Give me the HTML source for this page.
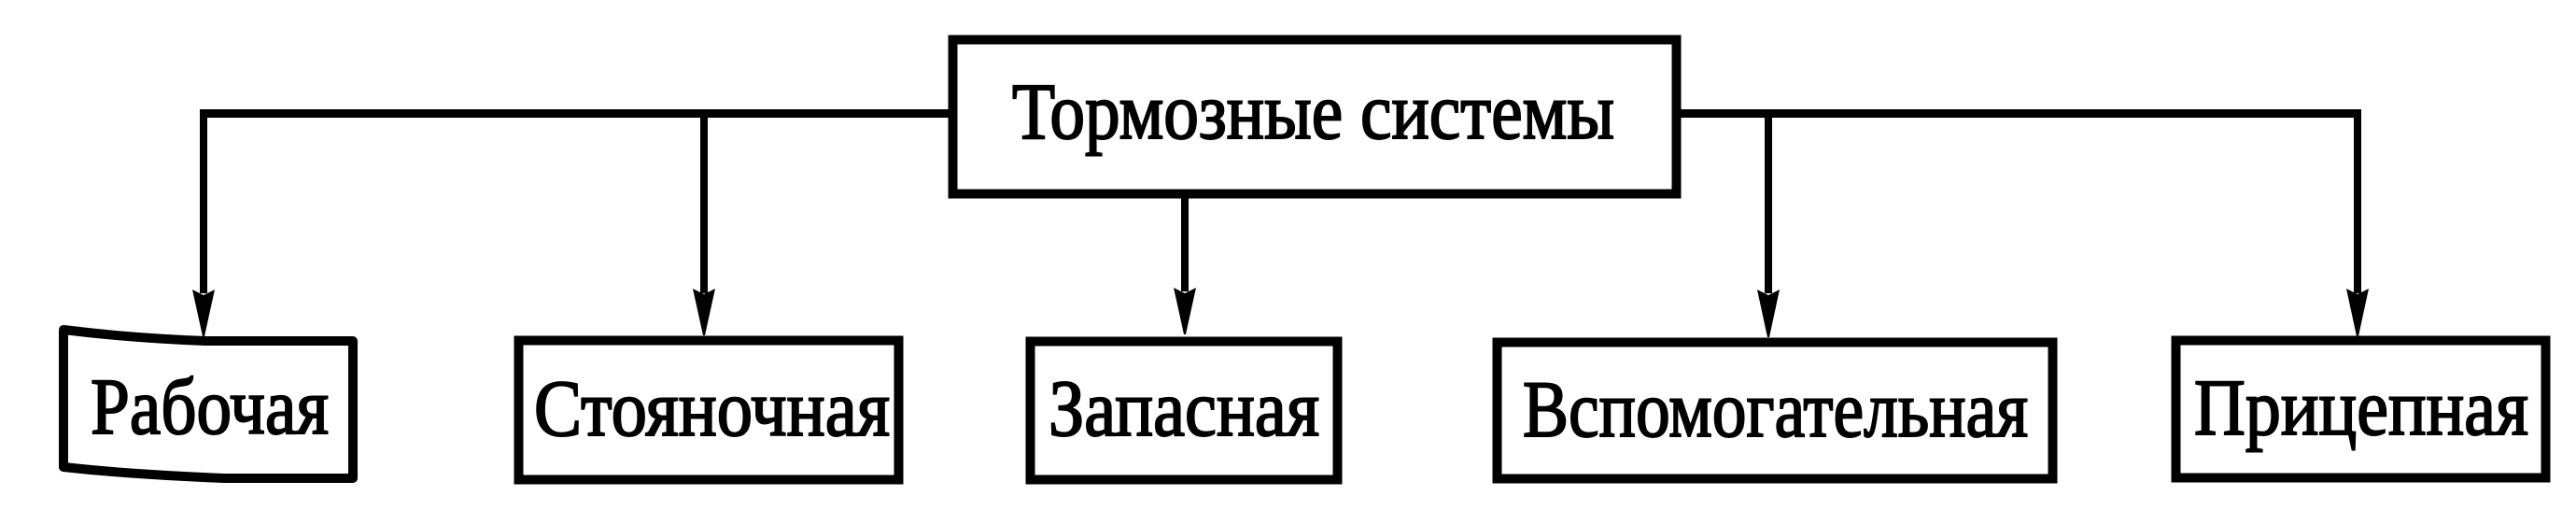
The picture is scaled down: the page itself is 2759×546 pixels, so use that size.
<!DOCTYPE html>
<html>
<head>
<meta charset="utf-8">
<style>
  html, body { margin: 0; padding: 0; background: #fff; }
  body { width: 2759px; height: 546px; overflow: hidden; }
  svg { display: block; }
  text { font-family: "Liberation Serif", "DejaVu Serif", serif; font-size: 86px; fill: #000; stroke: #000; stroke-width: 2px; }
</style>
</head>
<body>
<svg width="2759" height="546" viewBox="0 0 2759 546" xmlns="http://www.w3.org/2000/svg">
  <rect x="0" y="0" width="2759" height="546" fill="#fff"/>

  <!-- main horizontal connector -->
  <line x1="214" y1="121.5" x2="2529" y2="121.5" stroke="#000" stroke-width="9"/>

  <!-- vertical connectors -->
  <g stroke="#000" stroke-width="8" fill="none">
    <line x1="218" y1="117" x2="218" y2="314"/>
    <line x1="754" y1="121" x2="754" y2="314"/>
    <line x1="1269" y1="210" x2="1269" y2="312"/>
    <line x1="1894" y1="121" x2="1894" y2="314"/>
    <line x1="2525" y1="117" x2="2525" y2="314"/>
  </g>

  <!-- arrowheads -->
  <g fill="#000" stroke="none">
    <path d="M206,310 L218,316 L230,310 L219,360 L217,360 Z"/>
    <path d="M742,309 L754,315 L766,309 L755,359 L753,359 Z"/>
    <path d="M1257,308 L1269,314 L1281,308 L1270,358 L1268,358 Z"/>
    <path d="M1882,310 L1894,316 L1906,310 L1895,361 L1893,361 Z"/>
    <path d="M2513,309 L2525,315 L2537,309 L2526,360 L2524,360 Z"/>
  </g>

  <!-- main box -->
  <rect x="1020.5" y="42.5" width="775" height="165" fill="#fff" stroke="#000" stroke-width="10"/>
  <text x="1084" y="148" textLength="645" lengthAdjust="spacingAndGlyphs">Тормозные системы</text>

  <!-- Рабочая (slightly warped box) -->
  <path d="M68,353 Q140,362 220,365 L378,365 L378,512 L240,512 Q140,508 68,500 Z" fill="#fff" stroke="#000" stroke-width="10" stroke-linejoin="round"/>
  <text x="97" y="464" textLength="255" lengthAdjust="spacingAndGlyphs">Рабочая</text>

  <!-- Стояночная -->
  <rect x="555.5" y="364.5" width="407" height="149" fill="#fff" stroke="#000" stroke-width="10"/>
  <text x="572" y="466" textLength="381" lengthAdjust="spacingAndGlyphs">Стояночная</text>

  <!-- Запасная -->
  <rect x="1103.5" y="365.5" width="329" height="148" fill="#fff" stroke="#000" stroke-width="10"/>
  <text x="1123" y="466" textLength="290" lengthAdjust="spacingAndGlyphs">Запасная</text>

  <!-- Вспомогательная -->
  <rect x="1603.5" y="366.5" width="595" height="146" fill="#fff" stroke="#000" stroke-width="10"/>
  <text x="1631" y="467" textLength="541" lengthAdjust="spacingAndGlyphs">Вспомогательная</text>

  <!-- Прицепная -->
  <rect x="2330.5" y="364.5" width="396" height="147" fill="#fff" stroke="#000" stroke-width="10"/>
  <text x="2350" y="465" textLength="358" lengthAdjust="spacingAndGlyphs">Прицепная</text>
</svg>
</body>
</html>
